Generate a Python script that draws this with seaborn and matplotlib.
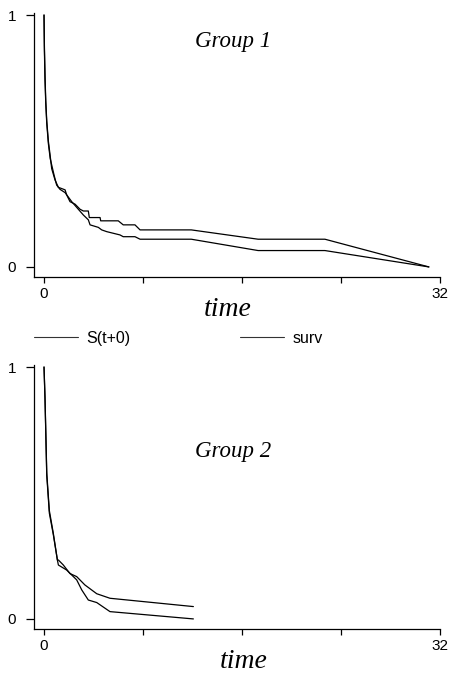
import numpy as np
import pandas as pd
import seaborn as sns
import matplotlib
matplotlib.use("Agg")
import matplotlib.pyplot as plt

# Group 1 curves
g1_s0_time = [0, 0.03, 0.08, 0.14, 0.22, 0.35, 0.5, 0.62, 0.89, 1.16, 1.70, 1.83, 2.10, 2.51,
              2.91, 3.18, 3.58, 3.66, 4.53, 4.58, 6.0, 6.4, 7.35, 7.76, 11.9, 17.3, 22.7, 31.1]
g1_s0_val = [1.0, 0.88, 0.76, 0.66, 0.58, 0.50, 0.44, 0.39, 0.345, 0.316, 0.306, 0.286, 0.259, 0.249,
             0.229, 0.222, 0.222, 0.196, 0.196, 0.183, 0.183, 0.167, 0.167, 0.147, 0.147, 0.11, 0.11, 0.0]
g1_surv_time = [0, 0.03, 0.08, 0.14, 0.22, 0.35, 0.5, 0.81, 1.02, 1.29, 1.70, 2.24, 2.77, 3.18,
                3.58, 3.72, 4.39, 4.66, 5.07, 6.14, 6.4, 7.35, 7.76, 11.9, 17.3, 22.7, 31.1]
g1_surv_val = [1.0, 0.86, 0.74, 0.65, 0.57, 0.49, 0.43, 0.365, 0.325, 0.308, 0.295, 0.259, 0.229, 0.206,
               0.187, 0.167, 0.157, 0.147, 0.14, 0.127, 0.12, 0.12, 0.11, 0.11, 0.065, 0.065, 0.0]

# Group 2 curves
g2_s0_time = [0, 0.08, 0.22, 0.43, 0.75, 1.08, 1.16, 1.56, 1.97, 2.1, 2.64, 3.3, 4.26, 5.33, 12.07]
g2_s0_val = [1.0, 0.88, 0.58, 0.43, 0.34, 0.234, 0.234, 0.214, 0.188, 0.18, 0.168, 0.135, 0.10, 0.082, 0.049]
g2_surv_time = [0, 0.08, 0.22, 0.43, 0.75, 1.08, 1.16, 1.83, 2.64, 3.05, 3.58, 4.26, 5.33, 12.07]
g2_surv_val = [1.0, 0.87, 0.57, 0.42, 0.335, 0.234, 0.214, 0.194, 0.155, 0.115, 0.075, 0.065, 0.029, 0.0]

series_names = ["S(t+0)", "surv"]
group_names = ["Group 1", "Group 2"]
x_ticks = [0, 8, 16, 24, 32]
x_ticklabels = ["0", "", "", "", "32"]
y_ticks = [0, 1]


def make_df():
    rows = []
    curves = [
        ("Group 1", "S(t+0)", g1_s0_time, g1_s0_val),
        ("Group 1", "surv", g1_surv_time, g1_surv_val),
        ("Group 2", "S(t+0)", g2_s0_time, g2_s0_val),
        ("Group 2", "surv", g2_surv_time, g2_surv_val),
    ]
    for group, series, t, v in curves:
        for i, (ti, vi) in enumerate(zip(t, v)):
            rows.append({"group": group, "series": series, "order": i, "time": ti, "value": vi})
    return pd.DataFrame(rows)


df = make_df()

sns.set_style("ticks")
plt.rcParams["font.family"] = ["Liberation Sans", "DejaVu Sans"]
plt.rcParams["text.color"] = "black"

W, H = 450, 683
fig = plt.figure(figsize=(W / 100, H / 100), dpi=100)

# axes boxes in pixel terms: left, top, right, bottom
boxes = [(34, 13, 440, 277), (34, 365, 440, 629)]
label_x = [0.478, 0.517]
text_y = [0.873, 0.644]

palette = {"S(t+0)": "black", "surv": "black"}
axes = []
for k, (group, (l, t, r, b)) in enumerate(zip(group_names, boxes)):
    ax = fig.add_axes([l / W, 1 - b / H, (r - l) / W, (b - t) / H])
    sub = df[df["group"] == group]
    sns.lineplot(data=sub, x="time", y="value", hue="series", hue_order=series_names,
                 palette=palette, estimator=None, sort=False, units="series",
                 linewidth=0.9, ax=ax, legend=True)
    ax.set_xlim(-0.81, 32)
    ax.set_ylim(-0.04, 1.008)
    ax.set_xticks(x_ticks)
    ax.set_xticklabels(x_ticklabels)
    ax.set_yticks(y_ticks)
    ax.set_yticklabels(["0", "1"])
    sns.despine(ax=ax)
    for sp in ax.spines.values():
        sp.set_linewidth(0.9)
        sp.set_color("black")
    ax.tick_params(axis="y", length=6, width=0.9, pad=7, labelsize=11, colors="black")
    ax.tick_params(axis="x", length=4.5, width=0.9, pad=3, labelsize=11, colors="black")
    ax.set_ylabel("")
    ax.set_xlabel("time", family="Liberation Serif", style="italic", fontsize=20,
                  labelpad=0, color="black")
    ax.xaxis.set_label_coords(label_x[k], -0.075)
    ax.text(15.27, text_y[k], group, family="Liberation Serif", style="italic",
            fontsize=16.5, ha="center", va="baseline", color="black")
    axes.append(ax)

handles, labels = axes[0].get_legend_handles_labels()
for ax in axes:
    if ax.get_legend() is not None:
        ax.get_legend().remove()

leg = fig.legend(handles, labels, loc="center left", bbox_to_anchor=(34 / W, 1 - 338 / H),
                 ncol=2, frameon=False, fontsize=11.5, handlelength=2.75, handletextpad=0.5,
                 columnspacing=6.9, borderpad=0, borderaxespad=0)
for line in leg.get_lines():
    line.set_linewidth(0.8)
    line.set_color("#333333")

fig.savefig("out.png", dpi=100)
